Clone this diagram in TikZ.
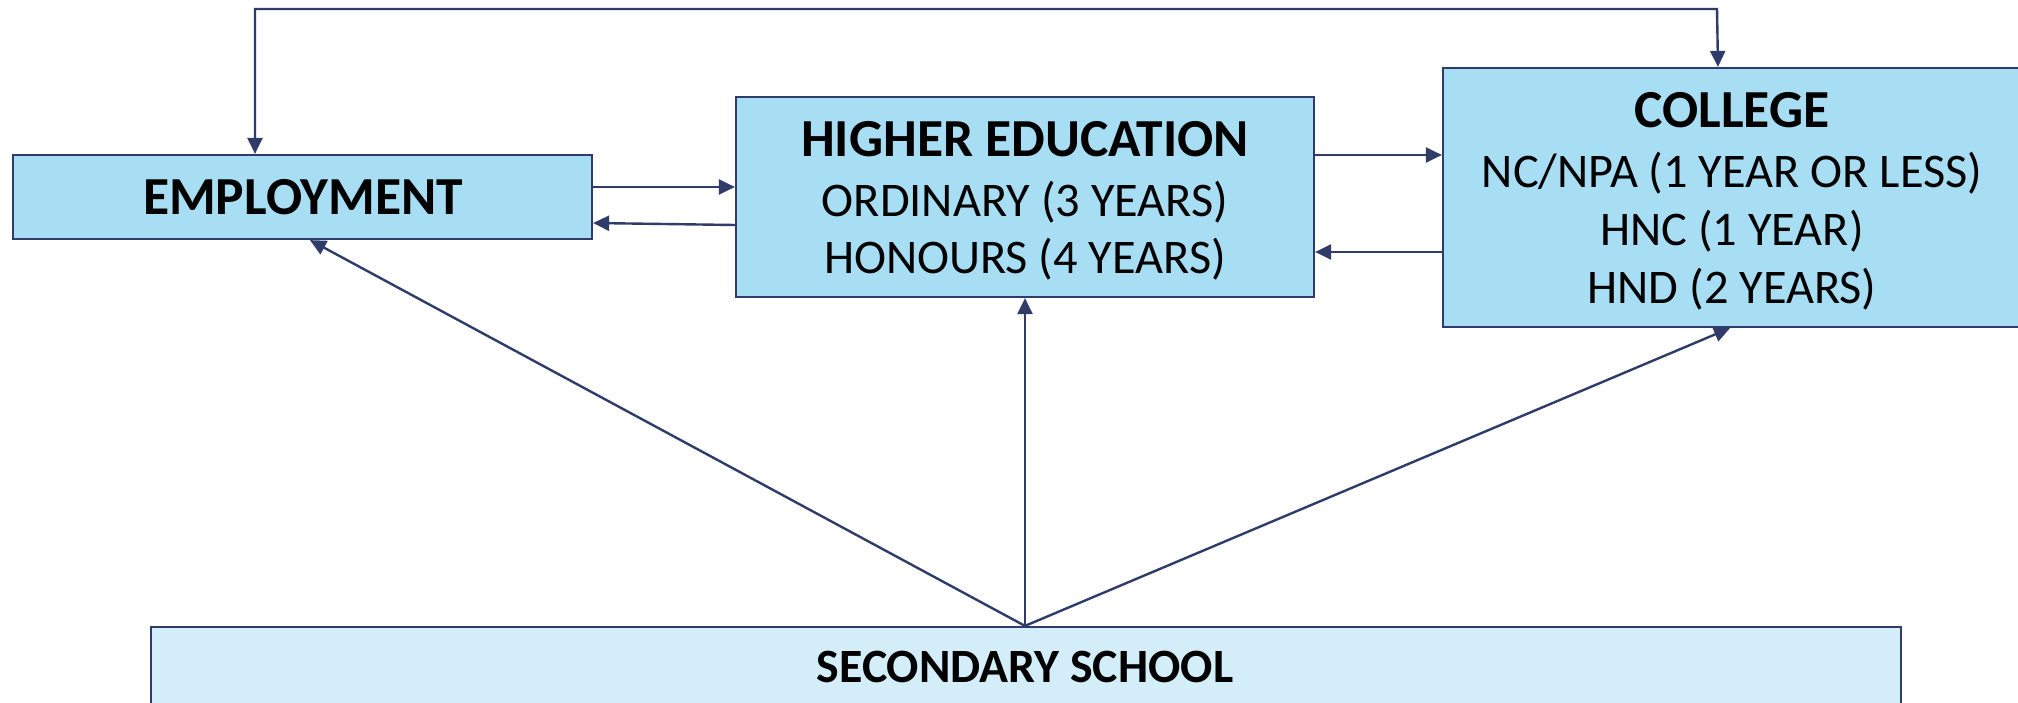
\documentclass[tikz,border=0pt]{standalone}
\usepackage{fontspec}
\setmainfont{Carlito}
\usetikzlibrary{arrows.meta}
\definecolor{boxfill}{HTML}{A7DEF3}
\definecolor{schoolfill}{HTML}{D3EEF9}
\definecolor{linec}{HTML}{2F3C6A}
\tikzset{
  box/.style={draw=linec, line width=2.2pt, fill=boxfill, inner sep=0pt},
  ttl/.style={anchor=base, inner sep=0pt, font=\fontsize{53.5}{60}\selectfont\bfseries},
  txt/.style={anchor=base, inner sep=0pt, font=\fontsize{48.3}{57}\selectfont},
  conn/.style={draw=linec, line width=2.4pt, -{Triangle[length=16pt,width=15pt]}},
  bconn/.style={draw=linec, line width=2.4pt, {Triangle[length=16pt,width=15pt]}-{Triangle[length=16pt,width=15pt]}},
}
\begin{document}
\begin{tikzpicture}[x=1pt,y=-1pt]
\useasboundingbox (0,0) rectangle (2018,703);
% boxes
\node[box, minimum width=579pt, minimum height=84pt] (emp) at (302.5,197) {};
\node[box, minimum width=578pt, minimum height=200pt] (he) at (1025,197) {};
\node[box, minimum width=582pt, minimum height=259pt] (col) at (1734,197.5) {};
\node[box, fill=schoolfill, minimum width=1750pt, minimum height=90pt] (sec) at (1026,672) {};
% texts
\node[ttl] (empt) at (303,215) {EMPLOYMENT};
\node[ttl] (het1) at (1025,157) {HIGHER EDUCATION};
\node[txt] (het2) at (1025,217) {ORDINARY (3 YEARS)};
\node[txt] (het3) at (1025,273) {HONOURS (4 YEARS)};
\node[ttl] (colt1) at (1732,128) {COLLEGE};
\node[txt] (colt2) at (1732,188) {NC/NPA (1 YEAR OR LESS)};
\node[txt] (colt3) at (1732,246) {HNC (1 YEAR)};
\node[txt] (colt4) at (1732,303) {HND (2 YEARS)};
\node[ttl, font=\fontsize{47.8}{57}\selectfont\bfseries] (sect) at (1025,682) {SECONDARY SCHOOL};
% connectors
\coordinate (tl) at (255,9);
\coordinate (tr) at (1717,9);
\draw[conn] ([yshift=10pt]emp.east) -- ([yshift=10pt]he.west);
\draw[conn] ([yshift=-28pt]he.west) -- ([yshift=-26pt]emp.east);
\draw[conn] ([yshift=42pt]he.east) -- ([yshift=42.5pt]col.west);
\draw[conn] ([yshift=-54.5pt]col.west) -- ([yshift=-55pt]he.east);
\draw[bconn] ([xshift=-47.5pt]emp.north) -- (tl) -- (tr) -- ([xshift=-16pt]col.north);
\draw[conn] ([xshift=-1pt]sec.north) -- ([xshift=7.5pt]emp.south);
\draw[conn] ([xshift=-1pt]sec.north) -- (he.south);
\draw[conn] ([xshift=-1pt]sec.north) -- ([xshift=-4pt]col.south);
\end{tikzpicture}
\end{document}
